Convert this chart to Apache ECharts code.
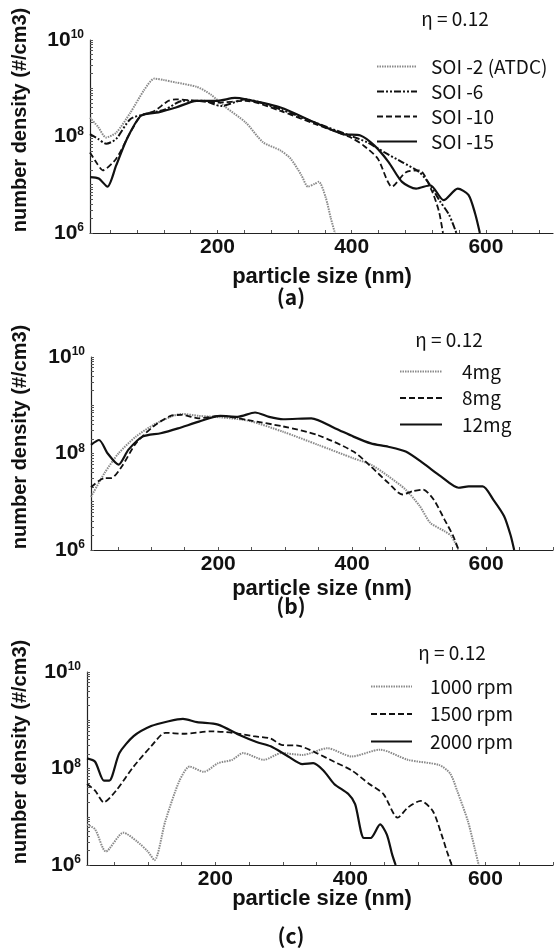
<!DOCTYPE html>
<html>
<head>
<meta charset="utf-8">
<script src="https://cdn.jsdelivr.net/npm/echarts@6/dist/echarts.min.js"></script>
<style>
  html, body { margin: 0; padding: 0; background: #fff; }
  #main { width: 556px; height: 952px; }
</style>
</head>
<body>
<div id="main"></div>
<script>
// particle size (nm) vs log10(number density)
var soi2 = [[10,8.39],[22,8.2],[34,7.98],[49,8.08],[70,8.49],[91,8.97],[106,9.2],[120,9.17],[138,9.12],[169,9.03],[190,8.87],[210,8.63],[242,8.29],[268,7.88],[294,7.71],[309,7.54],[325,7.2],[335,6.96],[345,7.02],[351,7.06],[361,6.75],[369,6.3],[375,6.0]];
var soi6 = [[10,8.05],[22,7.95],[34,7.85],[49,7.95],[70,8.36],[91,8.46],[122,8.56],[148,8.74],[179,8.74],[205,8.63],[242,8.77],[294,8.56],[345,8.29],[397,8.02],[423,7.88],[449,7.67],[475,7.47],[501,7.26],[517,6.99],[532,6.65],[545,6.38],[556,6.0]];
var soi10 = [[10,7.67],[20,7.45],[29,7.3],[49,7.54],[70,8.08],[86,8.43],[106,8.53],[127,8.74],[138,8.77],[169,8.74],[200,8.70],[242,8.74],[294,8.53],[345,8.26],[397,7.99],[418,7.81],[439,7.54],[460,6.96],[481,7.26],[501,7.3],[519,6.89],[530,6.45],[536,6.0]];
var soi15 = [[10,7.16],[23,7.13],[36,6.96],[49,7.4],[65,7.95],[86,8.43],[112,8.5],[138,8.6],[169,8.74],[200,8.74],[226,8.8],[242,8.77],[294,8.6],[345,8.29],[387,8.05],[413,8.02],[434,7.81],[455,7.47],[475,7.06],[496,6.92],[517,6.99],[537,6.68],[558,6.92],[574,6.79],[584,6.4],[591,6.0]];

var mg4 = [[10,7.1],[30,7.59],[51,8.0],[77,8.35],[103,8.59],[129,8.76],[145,8.82],[171,8.78],[203,8.75],[245,8.68],[297,8.45],[349,8.18],[402,7.9],[428,7.77],[454,7.53],[480,7.25],[501,6.91],[517,6.56],[538,6.39],[548,6.29],[559,6.0]];
var mg8 = [[10,7.3],[30,7.49],[40,7.49],[56,7.73],[77,8.21],[103,8.56],[129,8.78],[145,8.8],[171,8.73],[203,8.78],[245,8.69],[297,8.56],[349,8.38],[402,8.04],[428,7.73],[454,7.39],[475,7.15],[491,7.22],[506,7.25],[522,7.04],[538,6.63],[551,6.29],[559,6.0]];
var mg12 = [[10,8.18],[22,8.28],[35,8.0],[51,7.77],[66,8.08],[87,8.35],[114,8.42],[140,8.52],[171,8.66],[203,8.78],[229,8.76],[255,8.85],[276,8.76],[297,8.71],[339,8.73],[375,8.52],[402,8.35],[428,8.21],[454,8.14],[480,8.04],[506,7.8],[532,7.53],[559,7.29],[574,7.32],[595,7.32],[611,7.04],[627,6.7],[637,6.29],[642,6.0]];

var rpm1000 = [[10,6.84],[22,6.74],[38,6.28],[64,6.67],[84,6.49],[100,6.28],[110,6.1],[126,6.91],[147,7.75],[162,8.04],[183,7.93],[204,8.11],[225,8.18],[241,8.32],[272,8.18],[298,8.32],[329,8.28],[366,8.42],[402,8.25],[444,8.39],[485,8.18],[532,8.07],[548,7.89],[558,7.54],[574,6.91],[584,6.35],[590,6.0]];
var rpm1500 = [[10,7.68],[22,7.54],[35,7.3],[53,7.54],[79,8.04],[105,8.46],[126,8.74],[152,8.72],[194,8.77],[225,8.74],[256,8.67],[282,8.62],[298,8.49],[324,8.47],[350,8.32],[376,8.14],[402,7.96],[428,7.68],[449,7.47],[470,6.98],[485,7.19],[504,7.33],[522,7.12],[535,6.63],[543,6.28],[550,6.0]];
var rpm2000 = [[10,8.21],[22,8.14],[35,7.75],[43,7.75],[58,8.32],[79,8.67],[105,8.88],[131,8.98],[152,9.03],[173,8.96],[204,8.91],[235,8.7],[261,8.55],[282,8.46],[308,8.25],[329,8.09],[345,8.11],[360,7.96],[376,7.68],[397,7.47],[407,7.26],[420,6.56],[430,6.56],[444,6.84],[454,6.63],[462,6.21],[467,6.0]];

var xLabels = [200, 400, 600];
var yLabels = [1e6, 1e8, 1e10];

var panels = [
  { tag: '(a)', top: 40, left: 90, minorStep: 40,
    series: [['SOI -2 (ATDC)', soi2, 'dot'], ['SOI -6', soi6, 'dashdot'], ['SOI -10', soi10, 'dash'], ['SOI -15', soi15, 'solid']],
    legend: { left: 376, top: 57, w: 40, gap: 6, pad: 9 }, eta: [455, 19], tagY: 297, nameY: 277 },
  { tag: '(b)', top: 357, left: 91, minorStep: 50,
    series: [['4mg', mg4, 'dot'], ['8mg', mg8, 'dash'], ['12mg', mg12, 'solid']],
    legend: { left: 399, top: 362, w: 42, gap: 7.5, pad: 15 }, eta: [449, 340], tagY: 606, nameY: 589 },
  { tag: '(c)', top: 672, left: 87, minorStep: 50,
    series: [['1000 rpm', rpm1000, 'dot'], ['1500 rpm', rpm1500, 'dash'], ['2000 rpm', rpm2000, 'solid']],
    legend: { left: 370, top: 677, w: 41, gap: 8.5, pad: 13 }, eta: [452, 653], tagY: 936, nameY: 899 }
];

var lineStyles = {
  dot: { color: '#8a8a8a', width: 2, type: [1.5, 1] },
  dashdot: { color: '#111', width: 2, type: [7, 2, 2, 2, 2, 2] },
  dash: { color: '#111', width: 1.8, type: [6, 3] },
  solid: { color: '#111', width: 2.2, type: 'solid' }
};

var logTicks = [];
for (var p = 6; p < 10; p++) {
  for (var k = 1; k < 10; k++) logTicks.push(k * Math.pow(10, p));
}
logTicks.push(1e10);

var option = { animation: false, grid: [], xAxis: [], yAxis: [], series: [], legend: [], graphic: [] };

panels.forEach(function (pn, i) {
  var xTicks = [];
  for (var v = pn.minorStep; v <= 700; v += pn.minorStep) xTicks.push(v);
  option.grid.push({ left: pn.left, top: pn.top, width: 553 - pn.left, height: 193 });
  option.xAxis.push({
    type: 'value', gridIndex: i, min: 10, max: 700,
    axisLine: { lineStyle: { color: '#222', width: 1.2 } },
    axisTick: { inside: true, length: 3, customValues: xTicks, lineStyle: { color: '#555' } },
    axisLabel: { customValues: xLabels, color: '#111', fontSize: 21, fontWeight: 'bold', margin: 4,
      fontFamily: 'Liberation Sans' },
    splitLine: { show: false }
  });
  option.yAxis.push({
    type: 'log', logBase: 10, gridIndex: i, min: 1e6, max: 1e10,
    axisLine: { show: true, lineStyle: { color: '#222', width: 1.2 } },
    axisTick: { inside: true, length: 3, customValues: logTicks, lineStyle: { color: '#555' } },
    axisLabel: {
      customValues: yLabels, color: '#111', margin: 6,
      formatter: function (val) { return '10{s|' + Math.round(Math.log10(val)) + '}'; },
      rich: { s: { fontSize: 12, fontWeight: 'bold', verticalAlign: 'top', padding: [0, 0, 10, 0], fontFamily: 'Liberation Sans' } },
      fontSize: 21, fontWeight: 'bold', fontFamily: 'Liberation Sans'
    },
    splitLine: { show: false }
  });
  pn.series.forEach(function (s) {
    var ls = lineStyles[s[2]];
    option.series.push({
      name: s[0], type: 'line', xAxisIndex: i, yAxisIndex: i,
      data: s[1].map(function (d) { return [d[0], Math.pow(10, d[1])]; }),
      symbol: 'none', smooth: 0.25, clip: true,
      itemStyle: { color: ls.color },
      lineStyle: ls
    });
  });
  option.legend.push({
    orient: 'vertical', left: pn.legend.left, top: pn.legend.top, padding: 0,
    data: pn.series.map(function (s) { return s[0]; }),
    itemWidth: pn.legend.w, itemHeight: 16, itemGap: pn.legend.gap,
    itemStyle: { opacity: 0 },
    textStyle: { fontSize: 19, color: '#111', fontFamily: 'Noto Sans CJK KR', lineHeight: 16,
      padding: [0, 0, 0, pn.legend.pad] },
    selectedMode: false
  });
  option.graphic.push(
    { type: 'text', x: pn.eta[0], y: pn.eta[1],
      style: { text: 'η = 0.12', fontSize: 19, fill: '#111', fontFamily: 'Noto Sans CJK KR', align: 'center', verticalAlign: 'middle' } },
    { type: 'text', x: 291, y: pn.tagY,
      style: { text: pn.tag, fontSize: 21, fontWeight: 'bold', fill: '#111', fontFamily: 'Noto Sans CJK KR', align: 'center', verticalAlign: 'middle' } },
    { type: 'text', x: 322, y: pn.nameY,
      style: { text: 'particle size (nm)', fontSize: 22, fontWeight: 'bold', fill: '#111', fontFamily: 'Liberation Sans', align: 'center', verticalAlign: 'middle' } },
    { type: 'text', x: 20, y: pn.top + 80, rotation: Math.PI / 2,
      style: { text: 'number density (#/cm3)', fontSize: 20, fontWeight: 'bold', fill: '#111', fontFamily: 'Liberation Sans', align: 'center', verticalAlign: 'middle' } }
  );
});

var myChart = echarts.init(document.getElementById('main'));
myChart.setOption(option);
window.onresize = function () { myChart.resize(); };
</script>
</body>
</html>
